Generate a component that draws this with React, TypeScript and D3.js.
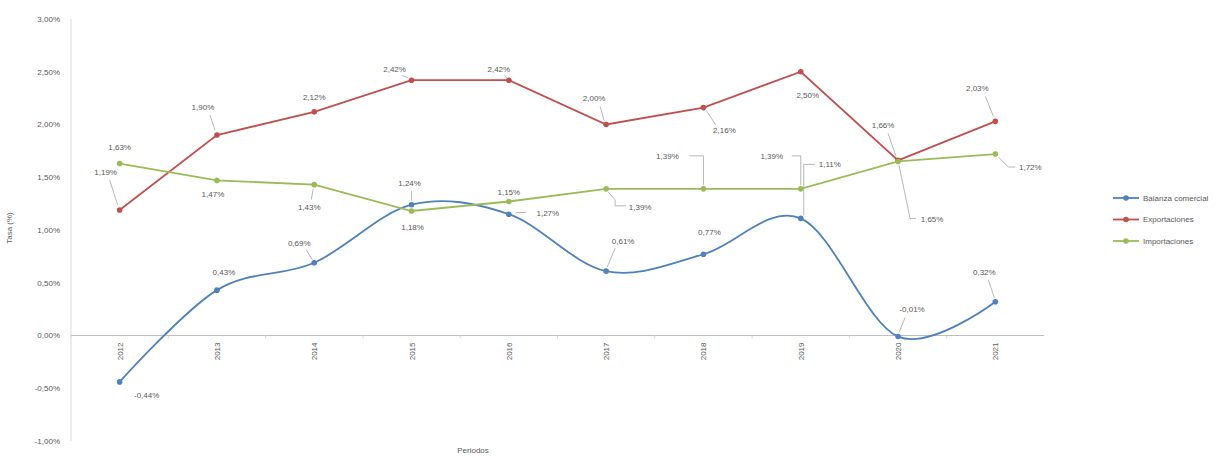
import React from "react";
import * as d3 from "d3";

const years = ["2012", "2013", "2014", "2015", "2016", "2017", "2018", "2019", "2020", "2021"];
const balanza = [-0.44, 0.43, 0.69, 1.24, 1.15, 0.61, 0.77, 1.11, -0.01, 0.32];
const exportaciones = [1.19, 1.90, 2.12, 2.42, 2.42, 2.00, 2.16, 2.50, 1.66, 2.03];
const importaciones = [1.63, 1.47, 1.43, 1.18, 1.27, 1.39, 1.39, 1.39, 1.65, 1.72];
const yTicks = [-1, -0.5, 0, 0.5, 1, 1.5, 2, 2.5, 3];
const seriesNames = ["Balanza comercial", "Exportaciones", "Importaciones"];

// label layout: [dx, dy] of label center relative to point, optional leader polyline offsets
type Lbl = { dx: number; dy: number; lead?: [number, number][] };
const balLabels: Lbl[] = [
  { dx: 27, dy: 13 },
  { dx: 7, dy: -18 },
  { dx: -15, dy: -20, lead: [[-8, -13], [-2, -3]] },
  { dx: -2, dy: -21, lead: [[0, -14], [0, -4]] },
  { dx: 0, dy: -22 },
  { dx: 17, dy: -30, lead: [[9, -23], [1, -4]] },
  { dx: 6, dy: -22 },
  { dx: 29, dy: -54, lead: [[14, -54], [3, -54], [3, -3]] },
  { dx: 14, dy: -27, lead: [[7, -19], [1, -4]] },
  { dx: -11, dy: -30, lead: [[-7, -22], [-1, -4]] },
];
const expLabels: Lbl[] = [
  { dx: -14, dy: -38, lead: [[-10, -30], [-2, -5]] },
  { dx: -14, dy: -28, lead: [[-7, -20], [-2, -5]] },
  { dx: 0, dy: -15 },
  { dx: -17, dy: -11, lead: [[-10, -5], [-3, -2]] },
  { dx: -10, dy: -11, lead: [[-4, -5], [-2, -2]] },
  { dx: -12, dy: -26, lead: [[-6, -18], [-2, -4]] },
  { dx: 21, dy: 23, lead: [[12, 17], [3, 3]] },
  { dx: 7, dy: 23 },
  { dx: -15, dy: -35, lead: [[-10, -27], [-2, -4]] },
  { dx: -18, dy: -33, lead: [[-10, -25], [-2, -5]] },
];
const impLabels: Lbl[] = [
  { dx: 0, dy: -16 },
  { dx: -4, dy: 14 },
  { dx: -5, dy: 23, lead: [[-3, 15], [-1, 4]] },
  { dx: 1, dy: 16 },
  { dx: 39, dy: 12, lead: [[17, 11], [7, 11]] },
  { dx: 34, dy: 18, lead: [[20, 17], [9, 17], [9, 11], [2, 3]] },
  { dx: -36, dy: -33, lead: [[-14, -33], [0, -33], [0, -4]] },
  { dx: -29, dy: -33, lead: [[-9, -33], [0, -33], [0, -4]] },
  { dx: 34, dy: 58, lead: [[18, 57], [12, 57], [1, 4]] },
  { dx: 35, dy: 13, lead: [[20, 13], [13, 13], [3, 3]] },
];

const W = 1228;
const H = 458;
const left = 71;
const right = 1044;
const top = 19;
const bottom = 441;

const colors = ["#4F81BD", "#C0504D", "#9BBB59"];
const textColor = "#595959";
const font = "'Liberation Sans', Arial, sans-serif";

const fmt = (v: number) => (v < 0 ? "-" : "") + Math.abs(v).toFixed(2).replace(".", ",") + "%";

export default function App() {
  const x = d3.scaleBand<string>().domain(years).range([left, right]);
  const xc = (i: number) => (x(years[i]) as number) + x.bandwidth() / 2;
  const y = d3.scaleLinear().domain([-1, 3]).range([bottom, top]);

  const series = [balanza, exportaciones, importaciones];
  const labels = [balLabels, expLabels, impLabels];
  const curves = [d3.curveCardinal.tension(0), d3.curveLinear, d3.curveLinear];

  return (
    <svg width={W} height={H} style={{ position: "absolute", left: 0, top: 0, background: "#fff" }} fontFamily={font}>
      {/* y axis line */}
      <line x1={left} x2={left} y1={top} y2={bottom} stroke="#D9D9D9" strokeWidth={1} />
      {yTicks.map((t) => (
        <text key={t} x={60} y={y(t)} dy="0.35em" textAnchor="end" fontSize={8} fill={textColor}>
          {fmt(t)}
        </text>
      ))}
      {/* zero axis */}
      <line x1={left} x2={right} y1={y(0)} y2={y(0)} stroke="#BFBFBF" strokeWidth={1} />
      {years.map((yr) => (
        <line key={"tk" + yr} x1={x(yr) as number} x2={x(yr) as number} y1={y(0)} y2={y(0) + 3} stroke="#D9D9D9" />
      ))}
      {years.map((yr, i) => (
        <text
          key={yr}
          transform={`translate(${xc(i) + 3},${y(0) + 7}) rotate(-90)`}
          textAnchor="end"
          fontSize={8}
          fill={textColor}
        >
          {yr}
        </text>
      ))}
      {/* axis titles */}
      <text transform={`translate(12,${228}) rotate(-90)`} textAnchor="middle" fontSize={8} fill={textColor}>
        Tasa (%)
      </text>
      <text x={473} y={453} textAnchor="middle" fontSize={8} fill={textColor}>
        Periodos
      </text>

      {series.map((vals, s) => {
        const line = d3
          .line<number>()
          .x((_, i) => xc(i))
          .y((v) => y(v))
          .curve(curves[s]);
        return (
          <g key={"s" + s}>
            <path d={line(vals) || ""} fill="none" stroke={colors[s]} strokeWidth={1.8} />
            {vals.map((v, i) => (
              <circle key={i} cx={xc(i)} cy={y(v)} r={2.8} fill={colors[s]} />
            ))}
          </g>
        );
      })}

      {series.map((vals, s) =>
        vals.map((v, i) => {
          const px = xc(i);
          const py = y(v);
          const l = labels[s][i];
          return (
            <g key={`l${s}-${i}`}>
              {l.lead && (
                <polyline
                  points={l.lead.map(([a, b]) => `${px + a},${py + b}`).join(" ")}
                  fill="none"
                  stroke="#A6A6A6"
                  strokeWidth={0.8}
                />
              )}
              <text x={px + l.dx} y={py + l.dy} dy="0.35em" textAnchor="middle" fontSize={8} fill={textColor}>
                {fmt(v)}
              </text>
            </g>
          );
        })
      )}

      {/* legend */}
      {seriesNames.map((n, k) => {
        const ly = 198 + k * 21.5;
        return (
          <g key={n}>
            <line x1={1113} x2={1139} y1={ly} y2={ly} stroke={colors[k]} strokeWidth={1.8} />
            <circle cx={1126} cy={ly} r={2.8} fill={colors[k]} />
            <text x={1143} y={ly} dy="0.35em" fontSize={8} fill={textColor}>
              {n}
            </text>
          </g>
        );
      })}
    </svg>
  );
}
